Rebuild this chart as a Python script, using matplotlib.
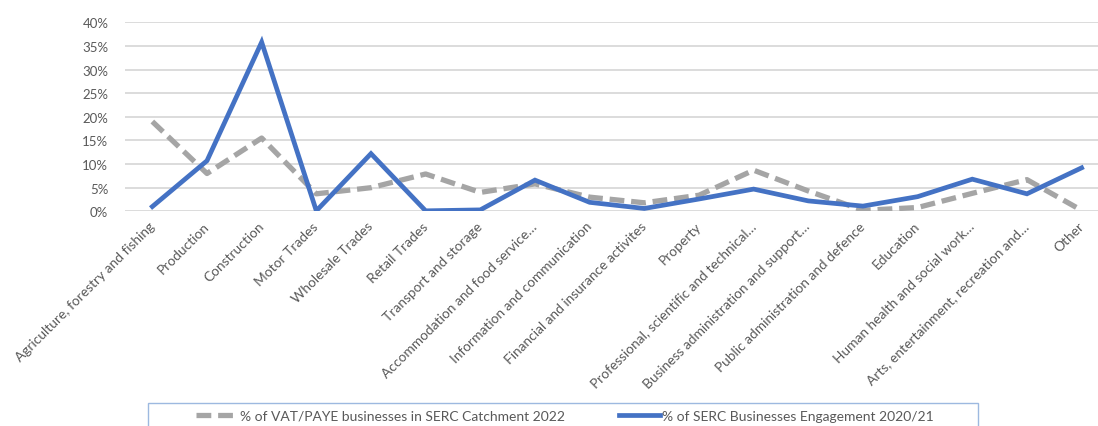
import matplotlib.pyplot as plt
from matplotlib.patches import Rectangle
from matplotlib.ticker import PercentFormatter

plt.rcParams['font.family'] = ['Lato', 'DejaVu Sans']

# Sectors and shares (in %)
sectors = [
    "Agriculture, forestry and fishing", "Production", "Construction",
    "Motor Trades", "Wholesale Trades", "Retail Trades", "Transport and storage",
    "Accommodation and food service…", "Information and communication",
    "Financial and insurance activites", "Property",
    "Professional, scientific and technical…", "Business administration and support…",
    "Public administration and defence", "Education", "Human health and social work…",
    "Arts, entertainment, recreation and…", "Other",
]
vat_paye_2022 = [19.0, 8.0, 15.5, 3.7, 5.0, 7.9, 4.0, 5.8, 3.0, 1.8,
                 3.4, 8.7, 4.3, 0.2, 0.8, 3.8, 6.7, 0.2]
serc_engagement = [1.0, 10.7, 35.8, 0.1, 12.2, 0.1, 0.3, 6.6, 1.9, 0.6,
                   2.6, 4.7, 2.2, 1.1, 3.1, 6.8, 3.7, 9.2]

text_col = "#595959"

fig = plt.figure(figsize=(10.98, 4.27), dpi=100)
ax = fig.add_axes([125 / 1098, 1 - 212.3 / 427, (1098 - 125) / 1098, 189 / 427])

x = range(len(sectors))
l1, = ax.plot(x, vat_paye_2022, color="#A5A5A5", lw=3.8, dashes=(2.8, 1.3),
              label="% of VAT/PAYE businesses in SERC Catchment 2022")
l2, = ax.plot(x, serc_engagement, color="#4472C4", lw=3.4, solid_joinstyle="miter",
              label="% of SERC Businesses Engagement 2020/21")

ax.set_ylim(0, 40)
ax.set_xlim(-0.5, 17.3)
ax.set_yticks(range(0, 41, 5))
ax.yaxis.set_major_formatter(PercentFormatter(decimals=0))
ax.grid(axis="y", color="#D9D9D9", lw=1.3)
ax.set_axisbelow(True)
for s in ax.spines.values():
    s.set_visible(False)
ax.tick_params(length=0, colors=text_col, labelsize=9.5)
ax.tick_params(axis="y", pad=12)
ax.set_xticks(list(x))
ax.set_xticklabels(sectors, rotation=45, ha="right", va="center",
                   rotation_mode="anchor", fontsize=9.9, color=text_col)
ax.tick_params(axis="x", pad=9)

# legend with a box running off the bottom of the figure
fig.legend(handles=[l1, l2], loc="center", bbox_to_anchor=(565 / 1098, 1 - 417 / 427),
           ncol=2, frameon=False, handlelength=3.0, handletextpad=0.15,
           columnspacing=3.9, fontsize=10.0, labelcolor=text_col)
fig.patches.append(Rectangle((148 / 1098, -0.02), 830 / 1098, (427 - 404) / 427 + 0.02,
                             transform=fig.transFigure, fill=False,
                             edgecolor="#9DB9E0", lw=1))

fig.savefig("out.png", dpi=100)
